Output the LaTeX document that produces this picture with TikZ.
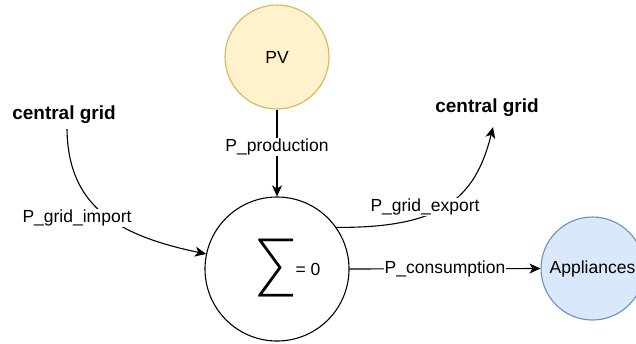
\documentclass[tikz,border=0pt]{standalone}
\usepackage{fontspec}
\setmainfont{Liberation Sans}
\newfontfamily\sigfont{Lato Light}
\usepackage{graphicx}
\usetikzlibrary{arrows.meta}
\definecolor{pvfill}{HTML}{FFF2CC}
\definecolor{pvdraw}{HTML}{D6B656}
\definecolor{apfill}{HTML}{DAE8FC}
\definecolor{apdraw}{HTML}{6C8EBF}
\begin{document}
\begin{tikzpicture}[x=1pt,y=-1pt,
  txt/.style={font=\fontsize{17.5}{20}\selectfont, inner sep=1pt},
  boldtxt/.style={font=\fontsize{19}{22}\selectfont\bfseries, inner sep=2pt},
  circ/.style={circle, line width=1.1pt, inner sep=0pt},
  flow/.style={line width=1.1pt, -{Stealth[length=11pt,width=10pt,inset=3pt]}},
  lbl/.style={txt, fill=white}]
\clip (0,0) rectangle (636,343);
\node[txt, circ, draw=pvdraw, fill=pvfill, minimum size=104pt] (pv) at (277,57) {PV};
\node[circ, draw=black, fill=white, minimum size=144pt] (sum) at (277,269) {};
\node[inner sep=0pt] (sig) at (276.5,268) {\resizebox*{40pt}{58pt}{\sigfont ∑}};
\node[txt] (eq) at (308,269) {= 0};
\node[txt, circ, draw=apdraw, fill=apfill, minimum size=103pt] (app) at (592.5,268.5) {Appliances};
\node[boldtxt] (cg1) at (64,115) {central grid};
\node[boldtxt] (cg2) at (487,108) {central grid};
\draw[flow] (pv.south) -- node[lbl, pos=0.43] (lprod) {P\_production} (sum.north);
\draw[flow] (sum.east) -- node[lbl] (lcons) {P\_consumption} (app.west);
\draw[flow] ([xshift=3pt,yshift=-3pt]cg1.south) .. controls (68,205) and (115,235) .. (sum.168);
\draw[flow] (sum.35) .. controls (440,228) and (475,200) .. ([xshift=6pt,yshift=-8pt]cg2.south);
\node[lbl] (limp) at (77,218) {P\_grid\_import};
\node[lbl] (lexp) at (425,207) {P\_grid\_export};
\end{tikzpicture}
\end{document}
